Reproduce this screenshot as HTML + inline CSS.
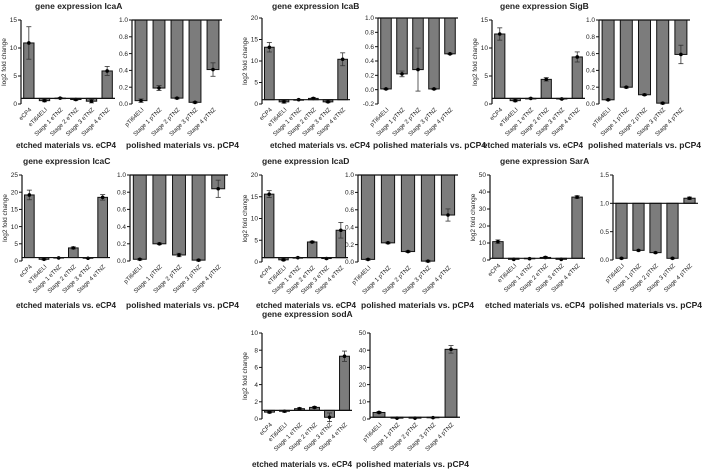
<!DOCTYPE html>
<html><head><meta charset="utf-8"><style>
body{margin:0;background:#fff;}
svg{display:block;font-family:"Liberation Sans",Arial,sans-serif;}
</style></head><body>
<svg id="fig" width="708" height="472" viewBox="0 0 708 472"></svg>
<script>
const etchedCats = ["eCP4","eTi64ELI","Stage 1 eTNZ","Stage 2 eTNZ","Stage 3 eTNZ","Stage 4 eTNZ"];
const polishedCats = ["pTi64ELI","Stage 1 pTNZ","Stage 2 pTNZ","Stage 3 pTNZ","Stage 4 pTNZ"];

const icaAEtched = [10.9,0.6,1.05,0.8,0.5,5.9];
const icaAEtchedErr = [2.9,0.2,0.1,0.2,0.3,0.8];
const icaAPolished = [0.04,0.19,0.07,0.02,0.41];
const icaAPolishedErr = [0.02,0.03,0.01,0.01,0.08];

const icaBEtched = [13.2,0.5,1.0,1.3,0.5,10.4];
const icaBEtchedErr = [1.1,0.3,0.1,0.2,0.2,1.5];
const icaBPolished = [0.01,0.22,0.28,0.01,0.50];
const icaBPolishedErr = [0.01,0.04,0.3,0.01,0.01];

const sigBEtched = [12.5,0.6,1.0,4.4,0.9,8.4];
const sigBEtchedErr = [1.1,0.2,0.1,0.3,0.1,0.9];
const sigBPolished = [0.05,0.2,0.11,0.01,0.59];
const sigBPolishedErr = [0.01,0.01,0.01,0.01,0.11];

const icaCEtched = [19.2,0.5,0.9,3.8,0.8,18.5];
const icaCEtchedErr = [1.4,0.2,0.1,0.3,0.1,0.8];
const icaCPolished = [0.02,0.2,0.07,0.01,0.84];
const icaCPolishedErr = [0.01,0.01,0.02,0.01,0.1];

const icaDEtched = [15.6,0.5,1.0,4.6,0.8,7.3];
const icaDEtchedErr = [0.8,0.2,0.1,0.2,0.1,1.8];
const icaDPolished = [0.03,0.22,0.12,0.01,0.54];
const icaDPolishedErr = [0.01,0.01,0.01,0.01,0.07];

const sarAEtched = [10.8,0.4,0.8,1.5,0.4,37.0];
const sarAEtchedErr = [1,0.2,0.2,0.5,0.1,0.8];
const sarAPolished = [0.03,0.17,0.13,0.03,1.09];
const sarAPolishedErr = [0.01,0.01,0.01,0.01,0.02];

const sodAEtched = [0.8,0.9,1.2,1.35,0.2,7.3];
const sodAEtchedErr = [0.1,0.1,0.1,0.1,0.5,0.6];
const sodAPolished = [3.8,0.5,0.5,0.8,40.5];
const sodAPolishedErr = [0.6,0.2,0.1,0.3,2.2];

const ticks15 = ["0","5","10","15"];
const ticks20 = ["0","5","10","15","20"];
const ticks25 = ["0","5","10","15","20","25"];
const ticks50 = ["0","10","20","30","40","50"];
const ticks10 = ["0","2","4","6","8","10"];
const ticksFrac = ["0.0","0.2","0.4","0.6","0.8","1.0"];
const ticksFracNeg = ["-0.2","0.0","0.2","0.4","0.6","0.8","1.0"];
const ticks15b = ["0.0","0.5","1.0","1.5"];

const NS="http://www.w3.org/2000/svg";
const svg=document.getElementById('fig');
function mk(tag,attrs,parent){const e=document.createElementNS(NS,tag);for(const k in attrs)e.setAttribute(k,attrs[k]);(parent||svg).appendChild(e);return e;}

function panel(name,cfg){
  const g=mk('g',{});
  
  
  const ticks=cfg.ticks.map(Number);
  const lo=ticks[0],hi=ticks[ticks.length-1];
  const y=v=>cfg.y0+(hi-v)/(hi-lo)*(cfg.y1-cfg.y0);
  const n=cfg.vals.length, band=(cfg.xr-cfg.xa)/n;
  const cx=i=>cfg.xa+(i+0.5)*band;
  cfg.vals.forEach((v,i)=>{
    const top=Math.min(y(v),y(1)),h=Math.abs(y(v)-y(1));
    const b=mk('rect',{x:cx(i)-band*0.33,y:top,width:band*0.66,height:Math.max(h,0.5),fill:'#7c7c7c',stroke:'#111','stroke-width':1},g);
    
    
    const e=cfg.err[i];
    mk('line',{x1:cx(i),x2:cx(i),y1:y(v-e),y2:y(v+e),stroke:'#333','stroke-width':0.8},g);
    mk('line',{x1:cx(i)-2.5,x2:cx(i)+2.5,y1:y(v+e),y2:y(v+e),stroke:'#333','stroke-width':0.8},g);
    mk('line',{x1:cx(i)-2.5,x2:cx(i)+2.5,y1:y(v-e),y2:y(v-e),stroke:'#333','stroke-width':0.8},g);
    mk('circle',{cx:cx(i),cy:y(v),r:1.8,fill:'#000'},g);
    const t=mk('text',{x:cx(i)+3,y:cfg.y1+6,'font-size':6,fill:'#222','text-anchor':'end',transform:`rotate(-45 ${cx(i)+3} ${cfg.y1+6})`},g);
    t.textContent=cfg.cats[i];
  });
  mk('line',{x1:cfg.xa,x2:cfg.xr,y1:y(1),y2:y(1),stroke:'#111','stroke-width':1.2},g);
  mk('line',{x1:cfg.xa,x2:cfg.xa,y1:cfg.y0,y2:cfg.y1,stroke:'#111','stroke-width':1.2},g);
  cfg.ticks.forEach((s,k)=>{
    const yy=y(ticks[k]);
    mk('line',{x1:cfg.xa-3,x2:cfg.xa,y1:yy,y2:yy,stroke:'#111','stroke-width':1},g);
    const t=mk('text',{x:cfg.xa-4,y:yy+2.2,'font-size':6.5,fill:'#222','text-anchor':'end'},g);
    t.textContent=s;
  });
  return g;
}

function group(prefix,ox,oy,title,E,P){
  const t=mk('text',{x:ox+E.tx,y:oy+9,'font-size':8.5,'font-weight':'bold',fill:'#222'});
  
  
  t.textContent=title;
  const yt=mk('text',{x:0,y:0,'font-size':6.5,fill:'#222','text-anchor':'middle',transform:`translate(${E.xa-15} ${(E.y0+E.y1)/2}) rotate(-90)`});
  
  
  yt.textContent='log2 fold change';
  panel(prefix+'-etched-chart',E);
  panel(prefix+'-polished-chart',P);
  const l1=mk('text',{x:E.lx,y:E.ly,'font-size':8.3,'font-weight':'bold',fill:'#222',textLength:100,lengthAdjust:'spacingAndGlyphs'});
  
  
  l1.textContent='etched materials vs. eCP4';
  const l2=mk('text',{x:P.lx,y:E.ly,'font-size':8.3,'font-weight':'bold',fill:'#222',textLength:113,lengthAdjust:'spacingAndGlyphs'});
  
  
  l2.textContent='polished materials vs. pCP4';
}

group('icaa',0,0,'gene expression IcaA',
 {tx:35,xa:21,xr:115,y0:20,y1:104,vals:icaAEtched,err:icaAEtchedErr,cats:etchedCats,ticks:ticks15,lx:16,ly:148},
 {xa:132,xr:222,y0:20,y1:104,vals:icaAPolished,err:icaAPolishedErr,cats:polishedCats,ticks:ticksFrac,lx:126});
group('icab',230,0,'gene expression IcaB',
 {tx:42,xa:262,xr:350,y0:18,y1:104,vals:icaBEtched,err:icaBEtchedErr,cats:etchedCats,ticks:ticks20,lx:270,ly:148},
 {xa:378,xr:458,y0:18,y1:104,vals:icaBPolished,err:icaBPolishedErr,cats:polishedCats,ticks:ticksFracNeg,lx:373});
group('sigb',460,0,'gene expression SigB',
 {tx:40,xa:492,xr:585,y0:20,y1:104,vals:sigBEtched,err:sigBEtchedErr,cats:etchedCats,ticks:ticks15,lx:483,ly:148},
 {xa:599,xr:690,y0:20,y1:104,vals:sigBPolished,err:sigBPolishedErr,cats:polishedCats,ticks:ticksFrac,lx:588});
group('icac',0,155,'gene expression IcaC',
 {tx:23,xa:22,xr:110,y0:175,y1:261,vals:icaCEtched,err:icaCEtchedErr,cats:etchedCats,ticks:ticks25,lx:16,ly:308},
 {xa:130,xr:228,y0:175,y1:261,vals:icaCPolished,err:icaCPolishedErr,cats:polishedCats,ticks:ticksFrac,lx:126});
group('icad',230,155,'gene expression IcaD',
 {tx:32,xa:262,xr:348,y0:175,y1:262,vals:icaDEtched,err:icaDEtchedErr,cats:etchedCats,ticks:ticks20,lx:256,ly:308},
 {xa:358,xr:458,y0:175,y1:262,vals:icaDPolished,err:icaDPolishedErr,cats:polishedCats,ticks:ticksFrac,lx:361});
group('sara',460,155,'gene expression SarA',
 {tx:40,xa:490,xr:585,y0:175,y1:260,vals:sarAEtched,err:sarAEtchedErr,cats:etchedCats,ticks:ticks50,lx:485,ly:308},
 {xa:613,xr:698,y0:175,y1:260,vals:sarAPolished,err:sarAPolishedErr,cats:polishedCats,ticks:ticks15b,lx:589});
group('soda',230,308,'gene expression sodA',
 {tx:32,xa:262,xr:352,y0:333,y1:419,vals:sodAEtched,err:sodAEtchedErr,cats:etchedCats,ticks:ticks10,lx:252,ly:467},
 {xa:370,xr:460,y0:333,y1:419,vals:sodAPolished,err:sodAPolishedErr,cats:polishedCats,ticks:ticks50,lx:356});
</script>
</body></html>
